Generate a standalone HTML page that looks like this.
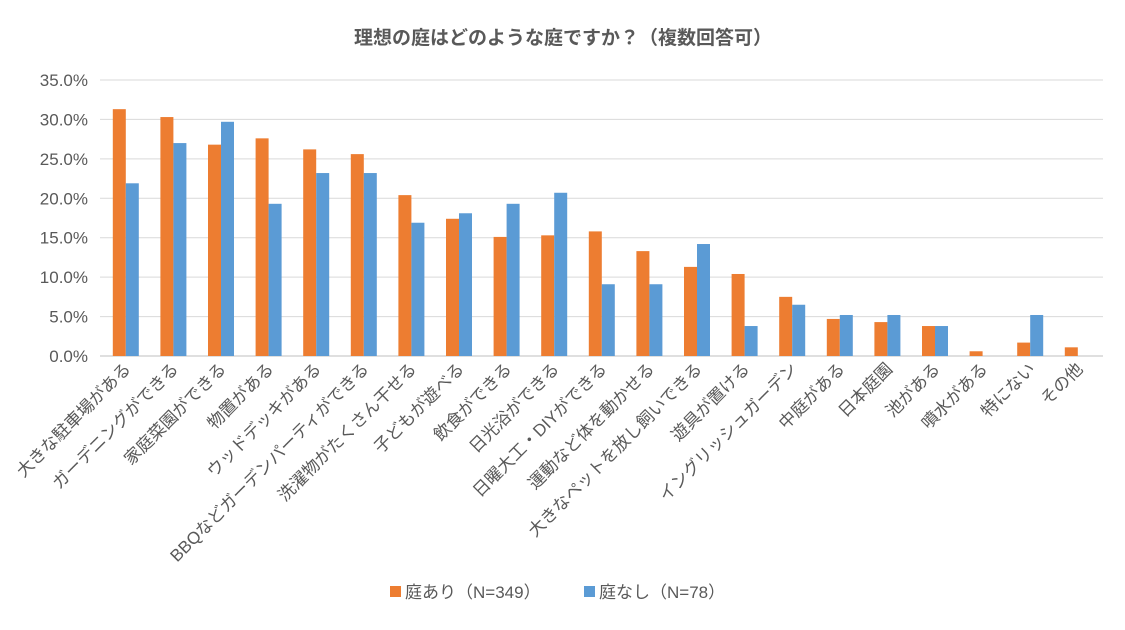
<!DOCTYPE html>
<html><head><meta charset="utf-8"><style>
body{margin:0;background:#fff}
svg text{font-family:"Liberation Sans","Noto Sans CJK JP",sans-serif;fill:#595959}
</style></head><body>
<svg width="1125" height="625" xmlns="http://www.w3.org/2000/svg">
<rect width="1125" height="625" fill="#fff"/>
<text x="563" y="44" font-size="19" font-weight="bold" text-anchor="middle">理想の庭はどのような庭ですか？（複数回答可）</text>
<g id="grid" stroke="#d9d9d9" stroke-width="1"></g>
<g id="ylab" font-size="17"></g>
<g id="bars"></g>
<g id="xlab" font-size="17"></g>
<rect x="390" y="586" width="11" height="11" fill="#ED7D31"/>
<text x="405" y="598" font-size="17">庭あり（N=349）</text>
<rect x="584" y="586" width="11" height="11" fill="#5B9BD5"/>
<text x="599" y="598" font-size="17">庭なし（N=78）</text>
</svg>
<script>
const ns="http://www.w3.org/2000/svg";
const y0=356,ppu=7.886,x0=102,cw=47.6;
const g=document.getElementById('grid'),yl=document.getElementById('ylab'),b=document.getElementById('bars'),xl=document.getElementById('xlab');
function el(t,a,p,txt){const e=document.createElementNS(ns,t);for(const k in a)e.setAttribute(k,a[k]);if(txt)e.textContent=txt;p.appendChild(e);}
for(let i=0;i<=7;i++){const y=y0-i*5*ppu;el('line',{x1:100,x2:1103,y1:y,y2:y,stroke:i==0?'#bfbfbf':'#d9d9d9'},g);el('text',{x:88,y:y+6,'text-anchor':'end'},yl,(i*5).toFixed(1)+'%');}
const d=[["大きな駐車場がある",31.3,21.9],["ガーデニングができる",30.3,27.0],["家庭菜園ができる",26.8,29.7],["物置がある",27.6,19.3],["ウッドデッキがある",26.2,23.2],["BBQなどガーデンパーティができる",25.6,23.2],["洗濯物がたくさん干せる",20.4,16.9],["子どもが遊べる",17.4,18.1],["飲食ができる",15.1,19.3],["日光浴ができる",15.3,20.7],["日曜大工・DIYができる",15.8,9.1],["運動など体を動かせる",13.3,9.1],["大きなペットを放し飼いできる",11.3,14.2],["遊具が置ける",10.4,3.8],["イングリッシュガーデン",7.5,6.5],["中庭がある",4.7,5.2],["日本庭園",4.3,5.2],["池がある",3.8,3.8],["噴水がある",0.6,0],["特にない",1.7,5.2],["その他",1.1,0]];
d.forEach((r,i)=>{const c=x0+cw*(i+0.5);
el('rect',{x:c-13,y:y0-r[1]*ppu,width:13,height:r[1]*ppu,fill:'#ED7D31'},b);
if(r[2]>0)el('rect',{x:c,y:y0-r[2]*ppu,width:13,height:r[2]*ppu,fill:'#5B9BD5'},b);
el('text',{x:0,y:0,'text-anchor':'end',transform:`translate(${c+6},${370}) rotate(-45)`},xl,r[0]);});
</script>
</body></html>
